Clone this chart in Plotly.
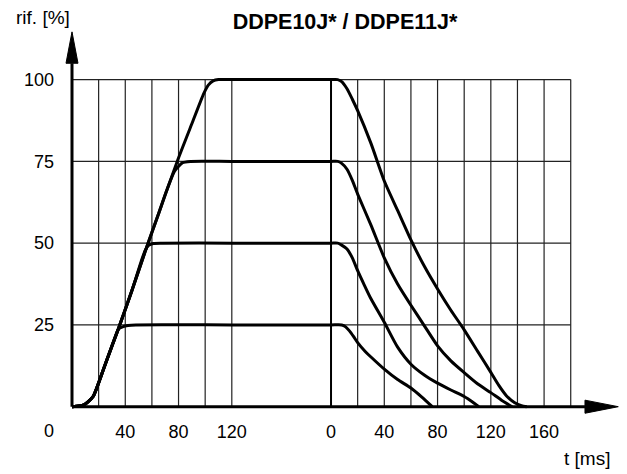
import plotly.graph_objects as go

# ---------------- data ----------------
levels = [25, 50, 75, 100]

# rising part: t in ms (left time scale)
rise_t_25 = [0, 5, 9, 12, 16, 25, 33, 35, 38, 42, 48, 120]
rise_v_25 = [0, 0.2, 0.6, 1.5, 3.2, 13, 22, 23.8, 24.4, 24.8, 25, 25]
rise_t_50 = [0, 5, 9, 12, 16, 25, 35, 45, 52, 55, 57.5, 61, 68, 120]
rise_v_50 = [0, 0.2, 0.6, 1.5, 3.2, 13, 24, 35.5, 44.5, 47.8, 49.3, 49.9, 50, 50]
rise_t_75 = [0, 5, 9, 12, 16, 25, 35, 45, 55, 65, 71, 77, 83, 89, 120]
rise_v_75 = [0, 0.2, 0.6, 1.5, 3.2, 13, 24, 35.5, 47.5, 59, 66, 72, 74.6, 75, 75]
rise_t_100 = [0, 5, 9, 12, 16, 25, 35, 45, 55, 65, 79, 90, 99, 102.5, 106, 110, 120]
rise_v_100 = [0, 0.2, 0.6, 1.5, 3.2, 13, 24, 35.5, 47.5, 59, 75, 86.5, 95.8, 98.4, 99.6, 100, 100]

# falling part: t in ms (right time scale, restarting at 0)
fall_t_25 = [0, 8, 11, 14, 17, 20, 25, 30, 40, 50, 60, 68, 76]
fall_v_25 = [25, 25, 24.4, 23.1, 21.4, 19.6, 17.2, 15.2, 11.5, 8.3, 5.7, 3, 0]
fall_t_50 = [0, 5, 8, 12, 16, 20, 25, 30, 40, 50, 60, 70, 80, 90, 100, 106, 111]
fall_v_50 = [50, 50, 49.4, 48.2, 45.5, 41.6, 37.2, 33, 25.8, 18.2, 13, 9.7, 7.2, 5.1, 3.1, 1.5, 0]
fall_t_75 = [0, 5, 8, 12, 16, 20, 30, 40, 50, 60, 70, 80, 90, 100, 110, 120, 128, 136]
fall_v_75 = [75, 75, 74.4, 72.6, 69.2, 65, 55.5, 45.5, 37.5, 31, 24.8, 18.6, 14, 10.4, 7, 4.3, 2, 0]
fall_t_100 = [0, 5, 8, 12, 16, 20, 30, 40, 50, 60, 70, 80, 90, 100, 110, 120, 126, 132, 138, 143, 147]
fall_v_100 = [100, 100, 99.4, 97.2, 94, 90.5, 80.5, 69, 60, 51, 43, 36, 29.5, 23.5, 17, 10.5, 6.5, 3.2, 1.2, 0.3, 0]

# grid / tick definitions
left_grid = [20, 40, 60, 80, 100, 120]
right_grid = [0, 20, 40, 60, 80, 100, 120, 140, 160, 180]
left_ticks = [40, 80, 120]
right_ticks = [0, 40, 80, 120, 160]
y_ticks = [25, 50, 75, 100]

OFF = 194.5  # offset of the right time scale on the continuous axis

rise = {25: (rise_t_25, rise_v_25), 50: (rise_t_50, rise_v_50),
        75: (rise_t_75, rise_v_75), 100: (rise_t_100, rise_v_100)}
fall = {25: (fall_t_25, fall_v_25), 50: (fall_t_50, fall_v_50),
        75: (fall_t_75, fall_v_75), 100: (fall_t_100, fall_v_100)}

FONT = "Liberation Sans, Arial, sans-serif"

fig = go.Figure()

# grid lines (as traces so they stop at the drawing frame)
gx, gy = [], []
for lv in levels:
    gx += [0, OFF + right_grid[-1], None]
    gy += [lv, lv, None]
for g in left_grid:
    gx += [g, g, None]
    gy += [0, 100, None]
for g in right_grid[1:]:
    gx += [OFF + g, OFF + g, None]
    gy += [0, 100, None]
fig.add_trace(go.Scatter(x=gx, y=gy, mode="lines", line=dict(color="#222", width=1.2),
                         hoverinfo="skip", showlegend=False))
fig.add_trace(go.Scatter(x=[OFF + right_grid[0], OFF + right_grid[0]], y=[0, 100], mode="lines",
                         line=dict(color="#000", width=2), hoverinfo="skip", showlegend=False))

# curves
for lv in levels:
    rt, rv = rise[lv]
    ft, fv = fall[lv]
    xs = list(rt) + [OFF + t for t in ft]
    ys = list(rv) + list(fv)
    fig.add_trace(go.Scatter(x=xs, y=ys, mode="lines",
                             line=dict(color="#000", width=3, shape="spline", smoothing=0.6),
                             hoverinfo="skip", showlegend=False))

# axes with arrows
X_ARROW_BASE, X_ARROW_TIP = 385.2, 410.2
Y_ARROW_BASE, Y_ARROW_TIP = 105.0, 114.6
fig.add_shape(type="line", x0=0, y0=0, x1=X_ARROW_BASE, y1=0, line=dict(color="#000", width=3))
fig.add_shape(type="line", x0=0, y0=0, x1=0, y1=Y_ARROW_BASE, line=dict(color="#000", width=3))
fig.add_shape(type="path",
              path=f"M {X_ARROW_BASE},-2 L {X_ARROW_TIP},0 L {X_ARROW_BASE},2 Z",
              fillcolor="#000", line=dict(color="#000", width=1))
fig.add_shape(type="path",
              path=f"M -4.5,{Y_ARROW_BASE} L 0,{Y_ARROW_TIP} L 4.5,{Y_ARROW_BASE} Z",
              fillcolor="#000", line=dict(color="#000", width=1))

tickvals = list(left_ticks) + [OFF + t for t in right_ticks]
ticktext = [str(t) for t in left_ticks] + [str(t) for t in right_ticks]

# page body has an 8px margin: figure is drawn from (8, 8) of the window
PAGE = 8
W, H = 627 - PAGE, 474 - PAGE
ML, MT = 60 - PAGE, 28 - PAGE
MR = 5
MB = H - (415 - PAGE)
pw, ph = W - ML - MR, H - MT - MB


def xp(px):
    return (px - PAGE - ML) / pw


def yp(py):
    return (H - MB - (py - PAGE)) / ph


fig.update_layout(
    width=W, height=H,
    margin=dict(l=ML, r=MR, t=MT, b=MB, pad=0),
    paper_bgcolor="white", plot_bgcolor="white",
    font=dict(family=FONT, color="#000", size=18),
    showlegend=False,
    xaxis=dict(range=[-9.011, 413.0], tickvals=tickvals, ticktext=ticktext,
               showgrid=False, zeroline=False, showline=False, ticks="",
               tickfont=dict(size=18, family=FONT, color="#000"), ticklabelstandoff=4,
               fixedrange=True),
    yaxis=dict(range=[-2.538, 115.78], tickvals=y_ticks, ticktext=[str(v) for v in y_ticks],
               showgrid=False, zeroline=False, showline=False, ticks="",
               tickfont=dict(size=18, family=FONT, color="#000"), ticklabelstandoff=5,
               fixedrange=True),
    title=dict(text="<b>DDPE10J* / DDPE11J*</b>", xref="container", yref="container",
               x=(345 - PAGE) / W, y=1 - (21 - PAGE) / H, xanchor="center", yanchor="middle",
               font=dict(size=21.5, family=FONT, color="#000")),
    annotations=[
        dict(text="rif. [%]", xref="paper", yref="paper", x=xp(43), y=yp(17),
             xanchor="center", yanchor="middle", showarrow=False, font=dict(size=19)),
        dict(text="t [ms]", xref="paper", yref="paper", x=xp(587), y=yp(458),
             xanchor="center", yanchor="middle", showarrow=False, font=dict(size=19)),
        dict(text="0", xref="paper", yref="paper", x=xp(49), y=yp(431),
             xanchor="center", yanchor="middle", showarrow=False, font=dict(size=18)),
    ],
)

fig.write_html("out.html")
